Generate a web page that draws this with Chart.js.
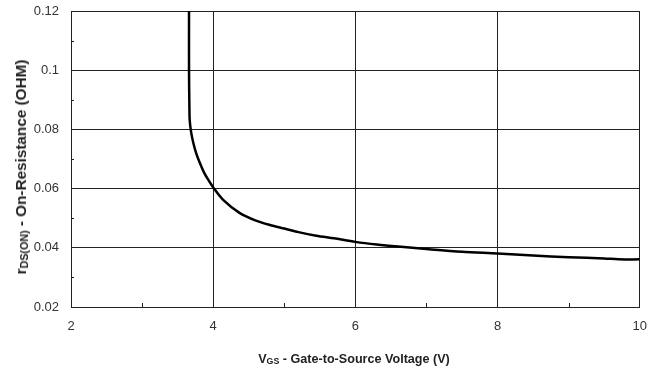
<!DOCTYPE html>
<html>
<head>
<meta charset="utf-8">
<script src="https://cdn.jsdelivr.net/npm/chart.js@4"></script>
<style>
  html, body { margin: 0; padding: 0; background: #fff; }
  .wrap { position: relative; width: 659px; height: 374px; }
  canvas { position: absolute; left: 0; top: 0; }
  .axis-title {
    position: absolute;
    font-family: "Liberation Sans", Arial, sans-serif;
    font-weight: bold;
    color: #222;
    white-space: nowrap;
  }
  .axis-title sub { font-size: 0.7em; vertical-align: -0.15em; }
  #y-title { font-size: 15.3px; left: 21px; top: 167px; transform: translate(-50%, -50%) rotate(-90deg); }
  #x-title { font-size: 12.6px; left: 354px; top: 359px; transform: translate(-50%, -50%); }
</style>
</head>
<body>
<div class="wrap">
  <canvas id="chart" width="659" height="374"></canvas>
  <div class="axis-title" id="y-title">r<sub>DS(ON)</sub> - On-Resistance (OHM)</div>
  <div class="axis-title" id="x-title">V<sub>GS</sub> - Gate-to-Source Voltage (V)</div>
</div>
<script>
// V_GS (V)
const vgs = [3.66, 3.66, 3.665, 3.67, 3.69, 3.72, 3.76, 3.81, 3.87, 3.93, 4.0, 4.14, 4.37, 4.6, 4.8, 5.0, 5.2, 5.45, 5.7, 6.0, 6.3, 6.6, 7.0, 7.5, 8.0, 8.5, 9.0, 9.5, 9.7, 10.0];
// r_DS(ON) (ohm)
const rds = [0.12, 0.10, 0.088, 0.083, 0.079, 0.0755, 0.072, 0.0688, 0.0655, 0.063, 0.0604, 0.0562, 0.0518, 0.0492, 0.0477, 0.0465, 0.0453, 0.0441, 0.0432, 0.042, 0.0411, 0.0404, 0.0396, 0.0387, 0.0381, 0.0374, 0.0368, 0.0364, 0.0361, 0.0361];
const xMinorTicks = [3, 5, 7, 9];
const yMinorTicks = [0.03, 0.05, 0.07, 0.09, 0.11];

document.addEventListener('DOMContentLoaded', () => {
    const points = vgs.map((x, i) => ({ x, y: rds[i] }));

    // small inward ticks at the odd values
    const minorTicks = {
        id: 'minorTicks',
        afterDatasetsDraw(chart) {
            const { ctx, chartArea, scales } = chart;
            ctx.save();
            ctx.strokeStyle = '#222';
            ctx.lineWidth = 1;
            ctx.beginPath();
            xMinorTicks.forEach(v => {
                const px = Math.round(scales.x.getPixelForValue(v)) + 0.5;
                ctx.moveTo(px, chartArea.bottom);
                ctx.lineTo(px, chartArea.bottom - 4);
            });
            yMinorTicks.forEach(v => {
                const py = Math.round(scales.y.getPixelForValue(v)) + 0.5;
                ctx.moveTo(chartArea.left, py);
                ctx.lineTo(chartArea.left + 3, py);
            });
            ctx.stroke();
            ctx.restore();
        }
    };

    const tickFont = { family: '"Liberation Sans", Arial, sans-serif', size: 13 };

    new Chart(document.getElementById('chart'), {
        type: 'scatter',
        data: {
            datasets: [{
                data: points,
                showLine: true,
                borderColor: '#000',
                borderWidth: 2.5,
                pointRadius: 0,
                tension: 0.3,
                fill: false
            }]
        },
        options: {
            responsive: false,
            animation: false,
            layout: { padding: { left: 0, top: 11, right: 18, bottom: 0 } },
            plugins: { legend: { display: false }, tooltip: { enabled: false } },
            scales: {
                x: {
                    type: 'linear',
                    min: 2,
                    max: 10,
                    border: { color: '#222', width: 1 },
                    grid: { color: '#222', lineWidth: 1, drawTicks: false },
                    ticks: { stepSize: 2, color: '#333', font: tickFont, padding: 12 },
                    afterFit(scale) { scale.height = 67; }
                },
                y: {
                    min: 0.02,
                    max: 0.12,
                    border: { color: '#222', width: 1 },
                    grid: { color: '#222', lineWidth: 1, drawTicks: false },
                    ticks: {
                        stepSize: 0.02,
                        color: '#333',
                        font: tickFont,
                        padding: 12,
                        callback: v => parseFloat(v.toFixed(2)).toString()
                    },
                    afterFit(scale) {
                        scale.width = 71;
                        scale.paddingTop = 0;
                        scale.paddingBottom = 0;
                    }
                }
            }
        },
        plugins: [minorTicks]
    });
});
</script>
</body>
</html>
